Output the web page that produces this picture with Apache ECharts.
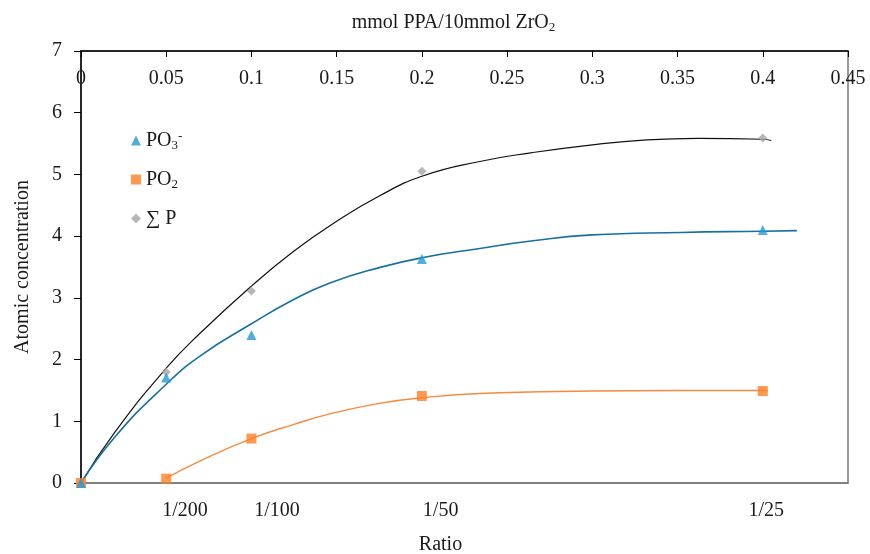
<!DOCTYPE html>
<html>
<head>
<meta charset="utf-8">
<script src="https://cdn.jsdelivr.net/npm/echarts@6/dist/echarts.min.js"></script>
<style>html,body{margin:0;padding:0;background:#fff}#c{width:870px;height:554px}</style>
</head>
<body>
<div id="c"></div>
<script>
// measured points
const xValues = [0, 0.05, 0.1, 0.2, 0.4];
const po3 = [0, 1.71, 2.40, 3.63, 4.10];
const po2 = [0, 0.07, 0.72, 1.41, 1.49];
const sumP = [0, 1.80, 3.11, 5.05, 5.59];

// trend curves
const sumFitX = [0, 0.02, 0.05, 0.07, 0.1, 0.125, 0.15, 0.175, 0.2, 0.234, 0.264, 0.3, 0.332, 0.362, 0.4, 0.405];
const sumFitY = [0, 0.83, 1.86, 2.43, 3.19, 3.76, 4.24, 4.65, 4.97, 5.21, 5.35, 5.48, 5.56, 5.585, 5.57, 5.55];
const po3FitX = [0, 0.02, 0.05, 0.07, 0.1, 0.124, 0.146, 0.175, 0.2, 0.234, 0.264, 0.3, 0.352, 0.4, 0.42];
const po3FitY = [0, 0.75, 1.60, 2.06, 2.58, 2.96, 3.24, 3.49, 3.65, 3.80, 3.92, 4.02, 4.06, 4.08, 4.09];
const po2FitX = [0.05, 0.07, 0.1, 0.125, 0.146, 0.175, 0.2, 0.234, 0.3, 0.35, 0.403];
const po2FitY = [0.08, 0.36, 0.72, 0.95, 1.12, 1.29, 1.38, 1.45, 1.49, 1.50, 1.50];

// tick labels
const bottomLabelPos = [0.061, 0.115, 0.211, 0.402];
const bottomLabels = ['1/200', '1/100', '1/50', '1/25'];

const FONT = 'Liberation Serif';
const FS = 20;
const pairs = (xs, ys) => xs.map((x, i) => [x, ys[i]]);

const chart = echarts.init(document.getElementById('c'), null, {renderer: 'canvas'});
chart.setOption({
  animation: false,
  textStyle: {fontFamily: FONT, color: '#1a1a1a'},
  grid: {left: 81, right: 22, top: 51, bottom: 71, show: true, borderColor: '#7a7a7a', borderWidth: 1.5, outerBoundsMode: 'none'},
  legend: {
    orient: 'vertical', left: 126, top: 125, itemGap: 17, itemWidth: 10, itemHeight: 10,
    data: ['PO3-', 'PO2', 'SP'],
    formatter: function (n) {
      if (n === 'PO3-') return '{b|PO}{s|3}{p|-}';
      if (n === 'PO2') return '{b|PO}{s|2}';
      return '{b|∑ P}';
    },
    textStyle: {
      fontFamily: FONT, fontSize: FS, color: '#1a1a1a',
      rich: {
        b: {fontFamily: FONT, fontSize: FS, color: '#1a1a1a'},
        s: {fontFamily: FONT, fontSize: 13, color: '#1a1a1a', padding: [11, 0, 0, 0]},
        p: {fontFamily: FONT, fontSize: 13, color: '#1a1a1a', padding: [0, 0, 8, 0]}
      }
    }
  },
  xAxis: [
    {
      type: 'value', position: 'top', min: 0, max: 0.45, interval: 0.05,
      name: '{a|mmol PPA/10mmol ZrO}{s|2}', nameLocation: 'middle', nameGap: 17,
      nameTextStyle: {
        padding: [0, 22, 0, 0],
        rich: {
          a: {fontFamily: FONT, fontSize: FS, color: '#1a1a1a'},
          s: {fontFamily: FONT, fontSize: 13, color: '#1a1a1a', padding: [10, 0, 0, 0]}
        }
      },
      axisLine: {onZero: false, lineStyle: {color: '#000', width: 1.5}},
      axisTick: {show: true, inside: true, length: 6, lineStyle: {color: '#000', width: 1}},
      axisLabel: {inside: true, margin: 18, fontSize: FS, fontFamily: FONT, color: '#1a1a1a'},
      splitLine: {show: false}
    },
    {
      type: 'value', position: 'bottom', min: 0, max: 0.45,
      name: 'Ratio', nameLocation: 'middle', nameGap: 52,
      nameTextStyle: {fontFamily: FONT, fontSize: FS, color: '#1a1a1a', padding: [0, 48, 0, 0]},
      axisLine: {onZero: false, lineStyle: {color: '#7a7a7a', width: 1.5}},
      axisTick: {show: false},
      axisLabel: {
        customValues: bottomLabelPos, margin: 18, fontSize: FS, fontFamily: FONT, color: '#1a1a1a',
        formatter: function (v) {
          const i = bottomLabelPos.findIndex(p => Math.abs(p - v) < 1e-6);
          return i >= 0 ? bottomLabels[i] : '';
        }
      },
      splitLine: {show: false}
    }
  ],
  yAxis: {
    type: 'value', min: 0, max: 7, interval: 1,
    name: 'Atomic concentration', nameLocation: 'middle', nameGap: 48,
    nameTextStyle: {fontFamily: FONT, fontSize: FS, color: '#1a1a1a'},
    axisLine: {show: true, onZero: false, lineStyle: {color: '#000', width: 1.5}},
    axisTick: {show: true, length: 7, lineStyle: {color: '#000'}},
    axisLabel: {margin: 19, fontSize: FS, fontFamily: FONT, color: '#1a1a1a'},
    splitLine: {show: false}
  },
  series: [
    {type: 'line', xAxisIndex: 0, data: pairs(sumFitX, sumFitY), smooth: 0.5, showSymbol: false, silent: true, lineStyle: {color: '#111', width: 1.2}, z: 2},
    {type: 'line', xAxisIndex: 0, data: pairs(po3FitX, po3FitY), smooth: 0.5, showSymbol: false, silent: true, lineStyle: {color: '#1670a0', width: 1.6}, z: 2},
    {type: 'line', xAxisIndex: 0, data: pairs(po2FitX, po2FitY), smooth: 0.5, showSymbol: false, silent: true, lineStyle: {color: '#f58a3c', width: 1.4}, z: 2},
    {name: 'SP', type: 'scatter', xAxisIndex: 0, data: pairs(xValues, sumP), symbol: 'diamond', symbolSize: 9, itemStyle: {color: '#a5a5a5'}, z: 3},
    {name: 'PO2', type: 'scatter', xAxisIndex: 0, data: pairs(xValues, po2), symbol: 'rect', symbolSize: 10, itemStyle: {color: '#ff7f27'}, z: 3},
    {name: 'PO3-', type: 'scatter', xAxisIndex: 0, data: pairs(xValues, po3), symbol: 'triangle', symbolSize: 10, itemStyle: {color: '#239ad6'}, z: 4}
  ]
});
</script>
</body>
</html>
